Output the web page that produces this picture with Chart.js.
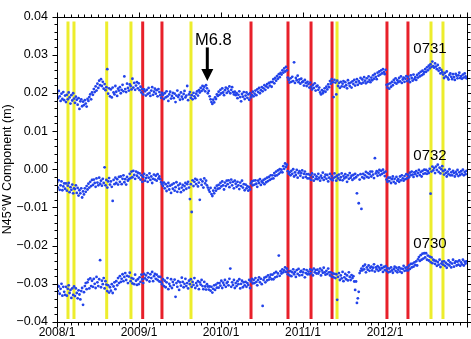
<!DOCTYPE html>
<html>
<head>
<meta charset="utf-8">
<script src="https://cdn.jsdelivr.net/npm/chart.js@4/dist/chart.umd.min.js"></script>
<style>
html,body{margin:0;padding:0;background:#fff}
#wrap{width:471px;height:339px}
</style>
</head>
<body>
<div id="wrap"><canvas id="chart"></canvas></div>
<script>

// sampling: one value every 4 days from 2008/1/1
const startYear=2008
const stepDays=4

// station series, in mm
const s0731=[
19.9,18.6,20.5,19.1,17.9,19.8,18.4,20.2,18.1,19.3,
17.6,19.5,18.3,20.1,18.8,17.2,19.4,18.0,19.9,18.5,
17.4,19.0,18.2,16.9,18.6,15.8,17.8,18.3,16.5,17.7,
16.8,18.1,17.2,16.4,18.4,17.9,18.9,19.6,18.3,20.1,
19.5,21.0,20.2,21.7,20.6,22.4,21.3,23.2,22.0,23.6,
21.8,22.9,21.1,22.3,20.7,21.5,26.2,19.8,21.2,19.1,
20.9,18.8,21.4,20.1,19.6,21.8,20.3,19.2,21.1,20.6,
21.5,19.9,20.8,22.1,20.4,24.3,21.0,20.2,22.4,21.3,
20.6,22.2,21.8,20.9,23.7,21.4,22.6,20.8,21.9,22.8,
21.2,22.5,20.7,21.6,20.1,21.0,19.6,20.9,20.4,19.3,
20.8,19.7,21.3,20.0,19.2,20.6,21.5,19.5,20.3,21.1,
19.8,20.7,19.1,21.0,20.2,19.4,18.7,20.0,19.5,18.4,
19.9,18.8,20.4,19.1,17.9,19.6,20.3,18.5,19.2,20.0,
18.6,19.8,17.6,19.3,20.6,18.9,19.5,18.2,20.1,19.0,
18.4,19.7,20.5,18.8,19.3,21.8,18.1,19.6,20.2,18.7,
19.4,18.3,20.0,19.1,18.6,19.8,20.4,19.3,20.7,20.1,
21.3,20.5,21.8,20.9,21.6,20.4,22.0,21.2,19.9,20.5,
19.1,18.3,17.6,17.1,18.2,17.5,18.8,18.4,19.6,19.2,
20.3,19.5,20.8,19.9,21.2,20.1,19.4,20.7,21.4,20.0,
21.1,20.4,21.7,19.9,20.8,21.5,20.2,19.6,20.3,19.4,
19.9,18.6,19.5,20.4,18.9,17.8,19.7,19.0,20.2,18.4,
19.3,20.1,18.7,19.6,18.2,19.9,18.8,19.4,20.3,19.1,
19.8,20.6,19.4,20.9,20.2,21.3,19.9,20.7,21.5,20.4,
21.2,22.0,20.8,21.7,22.3,21.4,22.6,21.9,22.8,21.6,
22.9,23.6,22.5,23.9,23.2,24.4,23.7,24.9,24.1,25.2,
24.8,25.9,25.3,26.4,25.6,26.8,25.9,24.0,23.4,22.7,
23.8,22.9,24.2,23.1,28.0,22.6,23.9,23.3,24.5,22.8,
23.5,22.4,23.7,22.8,23.0,21.9,23.4,22.6,21.8,22.9,
22.3,21.4,22.7,21.6,20.9,22.1,21.3,22.5,20.6,21.7,
21.9,20.8,21.4,20.1,19.6,20.7,19.9,20.4,21.2,20.3,
21.6,20.9,22.2,21.5,23.1,22.4,23.6,22.8,18.9,23.4,
22.7,19.6,23.2,21.8,22.6,21.3,22.9,21.7,22.4,23.1,
21.6,22.8,22.0,21.2,23.3,22.5,21.8,22.7,21.4,23.0,
22.3,23.4,21.9,22.8,23.6,22.1,23.1,22.6,23.9,22.4,
23.5,22.7,24.1,23.2,22.5,23.8,22.9,24.3,23.4,22.8,
24.0,23.3,24.6,23.7,25.0,24.2,23.6,25.3,24.5,25.6,
24.8,25.9,25.1,26.2,25.4,24.9,26.0,22.1,21.4,22.3,
21.1,22.5,21.6,22.9,22.0,23.4,22.7,23.8,22.4,23.3,
22.8,23.9,23.0,24.3,22.6,23.5,24.0,22.9,23.7,24.4,
23.1,24.2,23.5,22.8,24.6,23.9,23.2,24.8,23.6,24.1,
23.4,24.7,24.0,25.1,24.3,25.5,24.6,25.8,24.9,25.4,
26.2,25.5,26.7,25.9,27.1,26.4,27.5,26.8,28.2,27.0,
26.6,27.7,26.9,26.2,27.3,25.8,26.5,25.1,26.0,25.4,
24.8,23.9,25.2,24.3,25.6,24.0,23.5,24.7,25.1,24.2,
23.6,24.9,24.1,23.4,25.0,24.5,23.8,24.6,25.3,23.9,
24.4,23.7,24.8,24.0,25.1,24.3,23.8
]

const s0732=[
-3.4,-4.8,-2.9,-5.4,-4.2,-3.2,-5.5,-4.5,-3.7,-5.1,
-3.7,-5.6,-4.3,-3.6,-6.0,-4.7,-5.4,-4.0,-6.3,-5.0,
-5.2,-4.2,-6.2,-4.9,-6.9,-5.5,-6.3,-5.0,-7.4,-5.8,
-6.6,-5.0,-5.9,-4.4,-5.3,-3.8,-4.8,-3.3,-4.4,-2.8,
-4.1,-2.7,-3.6,-4.6,-2.4,-3.5,-4.2,-2.2,-3.8,-3.0,
-4.3,-2.5,-3.6,0.5,-4.2,-2.8,-4.8,-3.2,-2.3,-4.0,
-3.2,-4.6,-8.3,-2.8,-3.9,-2.2,-3.6,-2.6,-4.0,-2.0,
-3.3,-1.9,-3.9,-2.5,-1.6,-3.4,-2.6,-4.0,-2.0,-3.0,
-2.6,-1.2,-2.3,-0.6,-2.1,-0.4,-1.5,-2.5,-0.6,-1.7,
-0.9,-2.2,-1.1,-2.7,-1.6,-3.3,-2.0,-1.2,-3.0,-2.3,
-1.6,-3.3,-2.2,-1.1,-2.8,-1.9,-3.6,-2.5,-1.4,-2.7,
-1.7,-3.0,-1.3,-2.4,-1.9,-2.6,-3.4,-3.9,-4.4,-3.5,
-5.0,-3.9,-5.7,-4.5,-3.6,-5.3,-4.3,-6.2,-4.0,-5.1,
-3.7,-5.6,-4.7,-3.4,-5.9,-4.2,-5.1,-3.8,-6.0,-4.8,
-4.1,-5.5,-4.4,-3.6,-5.1,-3.9,-3.3,-4.8,-7.8,-3.9,
-11.2,-2.9,-4.4,-3.3,-2.5,-3.9,-2.8,-4.5,-3.5,-8.0,
-2.7,-4.1,-3.2,-4.8,-2.4,-3.7,-3.0,-4.2,-4.8,-5.4,
-5.9,-4.9,-6.5,-7.0,-5.6,-6.3,-4.9,-5.6,-4.3,-5.1,
-4.1,-5.0,-3.6,-4.5,-3.2,-4.2,-5.3,-3.5,-4.4,-3.0,
-3.9,-2.9,-4.7,-3.5,-2.7,-4.2,-3.3,-5.0,-3.0,-3.8,
-4.6,-3.3,-4.2,-5.2,-3.5,-4.4,-3.0,-4.8,-3.9,-5.5,
-4.0,-5.0,-4.4,-5.6,-4.7,-5.3,-3.7,-3.2,-4.2,-3.0,
-4.0,-2.9,-3.8,-4.6,-3.0,-3.6,-2.6,-4.1,-3.2,-3.5,
-2.8,-3.9,-2.5,-3.4,-2.2,-3.1,-2.0,-2.8,-1.6,-2.5,
-1.6,-2.4,-1.0,-1.7,-0.6,-1.6,-0.3,-1.2,0.0,-0.8,
-0.1,-0.8,0.8,0.1,1.5,0.6,1.2,-0.5,-1.2,-0.8,
-1.6,-0.4,-1.2,0.0,-1.9,-0.8,-1.5,-0.2,-2.2,-1.0,
-0.5,-1.7,-1.0,-0.3,-2.2,-1.2,-0.6,-2.0,-1.3,-2.4,
-1.3,-2.4,-1.6,-2.8,-1.1,-2.0,-3.0,-1.4,-2.5,-1.9,
-2.6,-1.2,-2.2,-3.0,-1.7,-2.3,-0.9,-2.8,-2.0,-1.4,
-2.5,-1.5,-3.2,-2.2,-1.2,-2.6,-1.8,-2.9,-2.3,-1.1,
-2.0,-3.0,-1.7,-2.4,-1.4,-2.8,-2.1,-1.1,-2.9,-1.8,
-2.4,-1.3,-2.1,-3.3,-1.6,-2.5,-1.0,-2.2,-1.7,-2.8,
-1.5,-2.4,-1.2,-2.1,-6.3,-1.6,-8.9,-2.7,-1.3,-10.4,
-2.1,-1.2,-2.4,-1.6,-0.7,-2.0,-1.0,-2.2,-1.3,-0.6,
-1.9,-0.6,-1.4,-2.3,2.9,-1.1,-0.5,-1.7,-0.9,-0.2,
-1.5,-0.4,-1.2,-0.1,-0.9,-1.8,-0.6,-2.7,-3.3,-2.2,
-3.1,-2.2,-3.6,-2.6,-1.9,-3.3,-2.5,-3.7,-2.0,-3.0,
-2.6,-3.3,-1.9,-2.9,-1.6,-2.4,-3.0,-1.8,-2.6,-1.3,
-2.4,-1.5,-2.1,-0.9,-1.6,-0.6,-1.4,-2.0,-0.8,-1.3,
-0.5,-1.8,-1.0,-0.2,-1.5,-0.7,-1.9,-0.4,-1.2,-0.1,
-1.1,-0.2,-1.2,-0.5,-1.0,0.1,-6.4,-0.6,0.7,-0.3,
0.3,-1.0,0.7,-0.2,1.2,-0.7,0.4,-1.1,0.0,0.8,
-0.5,-1.4,-0.2,-1.0,-1.9,-0.6,-1.3,0.0,-1.6,-0.8,
-1.6,-0.4,-1.0,-1.9,-0.7,-1.3,-0.2,-1.8,-0.8,-1.5,
-0.5,-1.2,-0.1,-1.6,-0.7,-1.3,-0.4
]

const s0730=[
-30.2,-31.9,-30.7,-32.6,-31.3,-30.0,-33.1,-30.8,-32.1,-32.9,
-30.8,-33.1,-31.3,-30.4,-32.4,-31.6,-33.7,-31.2,-32.9,-30.7,
-33.2,-31.2,-32.4,-33.8,-31.7,-32.8,-34.1,-31.9,-31.1,-35.5,
-32.2,-30.6,-29.8,-31.4,-29.6,-28.9,-31.2,-28.6,-30.6,-29.2,
-30.8,-28.7,-30.0,-31.1,-28.2,-29.6,-30.6,-28.8,-23.8,-30.9,
-29.2,-30.1,-28.5,-31.2,-29.3,-30.2,-31.9,-30.4,-32.3,-30.9,
-31.8,-30.1,-32.4,-30.7,-29.6,-31.4,-29.3,-30.4,-28.5,-29.8,
-28.0,-29.5,-28.7,-27.5,-29.3,-28.2,-27.2,-29.0,-27.9,-29.8,
-28.1,-27.1,-29.3,-28.5,-29.9,-28.7,-30.1,-27.6,-29.2,-30.3,
-28.8,-30.1,-28.3,-29.5,-27.6,-28.8,-29.8,-27.4,-28.6,-27.8,
-29.0,-27.2,-28.3,-29.4,-27.5,-28.5,-26.9,-29.3,-28.0,-27.4,
-28.7,-27.6,-29.0,-28.1,-29.4,-28.2,-29.5,-30.1,-28.8,-30.6,
-29.2,-30.9,-29.6,-28.5,-31.4,-30.0,-30.6,-28.8,-31.1,-29.5,
-30.3,-28.9,-33.4,-29.8,-30.8,-29.3,-31.6,-29.6,-30.5,-28.4,
-29.5,-30.9,-30.0,-28.7,-30.6,-29.8,-31.2,-29.2,-30.1,-28.8,
-30.8,-29.5,-30.3,-28.5,-31.1,-29.8,-30.5,-29.3,-31.4,-29.6,
-30.2,-29.0,-30.6,-31.4,-29.5,-30.7,-31.5,-30.1,-30.7,-31.5,
-30.7,-31.8,-30.8,-32.3,-31.3,-30.4,-31.6,-30.2,-31.0,-29.8,
-31.0,-29.8,-30.5,-29.2,-31.1,-29.7,-30.3,-29.0,-30.8,-29.8,
-29.5,-30.4,-28.7,-26.0,-30.8,-29.6,-30.3,-29.0,-31.1,-29.8,
-30.6,-29.3,-30.1,-28.8,-31.2,-30.0,-29.2,-30.9,-29.6,-30.4,
-29.5,-30.8,-29.8,-30.3,-29.0,-31.1,-29.4,-28.7,-29.9,-29.0,
-29.8,-28.5,-29.5,-30.4,-29.0,-28.3,-29.6,-28.7,-30.1,-35.8,
-29.0,-28.4,-29.6,-28.2,-29.1,-27.8,-28.9,-28.3,-27.6,-28.8,
-27.6,-28.8,-27.2,-28.3,-26.9,-28.1,-27.3,-22.6,-27.9,-26.7,
-27.3,-26.2,-27.0,-26.5,-25.7,-26.9,-26.0,-27.5,-26.7,-27.8,
-26.7,-28.0,-27.0,-26.2,-27.5,-26.9,-28.2,-26.4,-27.4,-26.1,
-27.8,-26.9,-26.6,-27.7,-27.0,-26.2,-28.3,-27.2,-26.4,-27.5,
-26.8,-27.5,-26.2,-27.2,-26.5,-27.8,-26.0,-27.0,-26.4,-27.3,
-26.3,-27.3,-26.8,-26.0,-27.8,-26.5,-27.1,-25.8,-27.0,-27.6,
-26.6,-27.4,-26.0,-27.0,-27.8,-27.0,-28.1,-27.3,-28.3,-27.4,
-28.5,-27.5,-34.2,-28.2,-27.2,-29.0,-27.8,-28.6,-26.9,-29.3,
-28.3,-27.4,-28.8,-27.8,-29.1,-27.0,-28.2,-29.0,-27.7,-28.5,
-28.0,-29.4,-31.6,-29.4,-35.0,-33.8,-32.1,-27.2,-26.6,-26.0,
-26.5,-25.4,-26.2,-25.0,-27.0,-25.7,-26.3,-25.2,-26.6,-25.8,
-25.5,-26.5,-25.8,-24.9,-26.8,-25.7,-26.2,-25.4,-26.6,-25.8,
-26.3,-25.1,-25.9,-26.9,-25.6,-26.4,-25.4,-26.6,-25.9,-27.0,
-26.0,-26.8,-25.7,-26.5,-27.1,-26.1,-25.5,-26.6,-25.8,-27.0,
-26.3,-25.7,-26.8,-26.0,-27.1,-26.1,-25.3,-26.6,-25.8,-26.5,
-25.7,-26.5,-25.2,-26.1,-24.8,-25.7,-24.7,-25.5,-24.4,-25.1,
-24.1,-25.2,-23.6,-23.0,-24.0,-22.5,-23.7,-22.1,-23.4,-22.0,
-23.1,-22.0,-23.7,-22.6,-23.9,-22.9,-24.3,-23.1,-24.6,-23.7,
-23.9,-24.8,-24.0,-25.3,-24.3,-25.0,-23.7,-25.6,-24.7,-24.2,
-25.0,-24.1,-25.3,-24.5,-25.8,-24.9,-23.9,-25.2,-24.4,-25.7,
-24.7,-23.7,-25.5,-24.5,-24.1,-25.2,-24.2,-25.0,-23.9,-25.3,
-24.4,-24.9,-23.7,-25.2,-24.2,-24.7,-24.1
]

// vertical event lines (decimal year) and their colour
const eventDates=[2008.134,2008.207,2008.606,2008.902,2009.045,2009.280,2009.634,2010.366,2010.817,2011.098,2011.354,2011.415,2012.024,2012.280,2012.561,2012.707]
const eventKinds=["y","y","y","y","r","r","y","r","r","r","r","y","r","r","y","y"]

// station labels: name, decimal year, baseline value (m)
const stationNames=["0731","0732","0730"]
const stationYears=[2012.549,2012.549,2012.549]
const stationLevels=[0.0304,0.00237,-0.02061]

// M6.8 arrow
const quakeLabel="M6.8"
const quakeYear=2009.833
const quakeFrom=0.0319
const quakeTo=0.0231

const xTicks=[2008,2009,2010,2011,2012,2013]
const yMin=-0.04, yMax=0.04

const FONT="'Liberation Sans', Arial, Helvetica, sans-serif"

function toPoints(arr){
    return arr.map((v,i)=>({x:startYear+i*stepDays/365.25,y:v/1000}))
}

const decor={
    id:"decor",
    beforeDatasetsDraw(chart){
        const {ctx,chartArea:a,scales:{x}}=chart
        ctx.save()
        ctx.lineWidth=3
        eventDates.forEach((d,i)=>{
            const px=x.getPixelForValue(d)
            ctx.strokeStyle=eventKinds[i]=="r"?"#e8202a":"#eded2c"
            ctx.beginPath()
            ctx.moveTo(px,a.top+5)
            ctx.lineTo(px,a.bottom-3)
            ctx.stroke()
        })
        ctx.restore()
    },
    afterDraw(chart){
        const {ctx,chartArea:a,scales:{x,y}}=chart
        ctx.save()
        ctx.strokeStyle="#000"
        ctx.lineWidth=1
        const L=Math.round(a.left)+0.5, R=Math.round(a.right)+0.5
        const T=Math.round(a.top)+0.5, B=Math.round(a.bottom)+0.5
        ctx.strokeRect(L,T,R-L,B-T)
        ctx.beginPath()
        for(let m=0;m<=60;m++){
            const px=Math.round(x.getPixelForValue(2008+m/12))+0.5
            const len=m%12==0?5:3
            ctx.moveTo(px,B);ctx.lineTo(px,B+len)
            ctx.moveTo(px,T);ctx.lineTo(px,T-len)
        }
        for(let k=0;k<=40;k++){
            const py=Math.round(y.getPixelForValue(yMin+k*0.002))+0.5
            const len=k%5==0?5:3
            ctx.moveTo(L,py);ctx.lineTo(L-len,py)
            ctx.moveTo(R,py);ctx.lineTo(R+len,py)
        }
        ctx.stroke()

        // arrow
        const ax=x.getPixelForValue(quakeYear)
        const ay0=y.getPixelForValue(quakeFrom)
        const ay1=y.getPixelForValue(quakeTo)
        ctx.fillStyle="#000"
        ctx.lineWidth=3
        ctx.beginPath()
        ctx.moveTo(ax,ay0);ctx.lineTo(ax,ay1-10)
        ctx.stroke()
        ctx.beginPath()
        ctx.moveTo(ax-6,ay1-12);ctx.lineTo(ax+6,ay1-12);ctx.lineTo(ax,ay1)
        ctx.closePath();ctx.fill()
        ctx.font="16.5px "+FONT
        ctx.textAlign="center"
        ctx.textBaseline="alphabetic"
        ctx.fillText(quakeLabel,ax+6,ay0-2)

        ctx.font="15px "+FONT
        stationNames.forEach((n,i)=>{
            ctx.fillText(n,x.getPixelForValue(stationYears[i]),y.getPixelForValue(stationLevels[i]))
        })
        ctx.restore()
    }
}

function pointSet(arr){
    return {
        data:toPoints(arr),
        backgroundColor:"#2243ea",
        borderWidth:0,
        pointRadius:1.4,
        pointHoverRadius:1.4
    }
}

new Chart(document.getElementById("chart"),{
    type:"scatter",
    data:{
        datasets:[pointSet(s0731),pointSet(s0732),pointSet(s0730)]
    },
    options:{
        responsive:true,
        maintainAspectRatio:false,
        animation:false,
        events:[],
        layout:{padding:{left:0,top:5,right:4,bottom:0}},
        plugins:{legend:{display:false},tooltip:{enabled:false}},
        scales:{
            x:{
                type:"linear",
                min:2008,
                max:2013,
                afterFit:s=>{s.height=17},
                afterBuildTicks:s=>{s.ticks=xTicks.map(v=>({value:v}))},
                grid:{display:false,drawTicks:false},
                border:{display:false},
                ticks:{
                    autoSkip:false,
                    maxRotation:0,
                    padding:3,
                    color:"#000",
                    font:{family:FONT,size:12},
                    callback:v=>v<2013?v+"/1":""
                }
            },
            y:{
                min:yMin,
                max:yMax,
                afterFit:s=>{s.width=57},
                grid:{display:false,drawTicks:false},
                border:{display:false},
                ticks:{
                    stepSize:0.01,
                    padding:9,
                    color:"#000",
                    font:{family:FONT,size:12.5},
                    callback:v=>Math.abs(v)<1e-9?"0.00":v.toFixed(2).replace("-","\u2212")
                },
                title:{
                    display:true,
                    text:"N45°W Component (m)",
                    color:"#000",
                    font:{family:FONT,size:12.5},
                    padding:{top:0,bottom:0}
                }
            }
        }
    },
    plugins:[decor]
})

</script>
</body>
</html>
